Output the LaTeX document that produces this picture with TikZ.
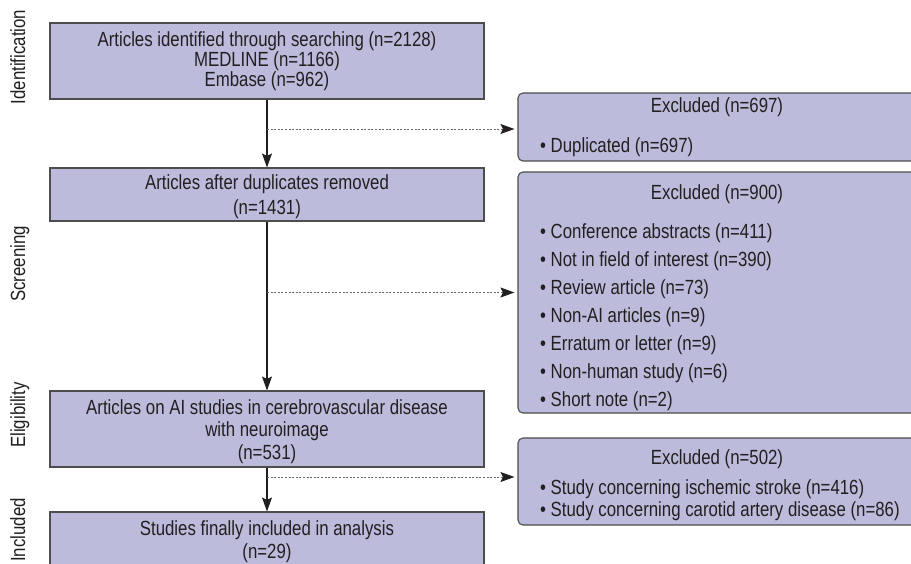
\documentclass[tikz,border=0pt]{standalone}
\usepackage{fontspec}
\setmainfont{Liberation Sans}[FakeStretch=0.82]
\usetikzlibrary{arrows.meta,positioning}
\definecolor{boxfill}{HTML}{BCBBDB}
\definecolor{boxline}{HTML}{4D4D4F}
\definecolor{ink}{HTML}{231F20}
\tikzset{
    %Define standard arrow tip
    >={Stealth[length=14pt,width=10pt,inset=2.5pt,color=ink]},
    %Define style for the main column boxes
    stage/.style={
           rectangle,
           draw=boxline,
           fill=boxfill,
           line width=1.1pt,
           minimum width=434pt,
           align=center,
           inner sep=0pt},
    %Define style for the exclusion boxes
    excl/.style={
           rectangle,
           rounded corners=5pt,
           draw=boxline,
           fill=boxfill,
           line width=1.1pt,
           minimum width=398pt},
    % list entries and phase labels
    entry/.style={anchor=west, inner sep=0pt},
    phase/.style={rotate=90, anchor=base, inner sep=0pt},
    % Define arrow styles
    pil/.style={
           ->,
           line width=1.1pt,
           draw=ink},
    dotpil/.style={
           ->,
           line width=1pt,
           draw=boxline!85,
           dash pattern=on 2pt off 1.6pt,
           shorten >=3pt}
}

\begin{document}
\begin{tikzpicture}[x=1pt, y=-1pt, font=\fontsize{20.5}{19}\selectfont, text=ink]
  \path[use as bounding box] (0,0) rectangle (911,563);
  \clip (0,0) rectangle (911,563);
  % phases
  \node[phase] (pid) at (25,57) {Identification};
  \node[phase] (psc) at (25,264) {Screening};
  \node[phase] (pel) at (25,415) {Eligibility};
  \node[phase] (pin) at (25,530) {Included};
  % main column
  \node[stage, minimum height=76pt] (found) at (267,61)
    {Articles identified through searching (n=2128)\\MEDLINE (n=1166)\\Embase (n=962)};
  \node[stage, minimum height=53pt] (dedup) at (267,194.5)
    {\rule{0pt}{20pt}Articles after duplicates removed\\[5pt](n=1431)};
  \node[stage, minimum height=76pt] (elig) at (267,429)
    {\rule{0pt}{21pt}Articles on AI studies in cerebrovascular disease\\[3pt]with neuroimage\\[3pt](n=531)};
  \node[stage, minimum height=54pt] (incl) at (267,539)
    {\rule{0pt}{20pt}Studies finally included in analysis\\[3pt](n=29)};
  % exclusions
  \node[excl, minimum height=68pt] (xdup) at (717,127) {};
  \node (xdupt) at (717,107) {Excluded (n=697)};
  \node[entry] (xdup0) at (540,147) {\textbullet\ Duplicated (n=697)};

  \node[excl, minimum height=241pt] (xscr) at (717,292.5) {};
  \node (xscrt) at (717,194) {Excluded (n=900)};
  \foreach \txt [count=\i from 0] in {Conference abstracts (n=411), Not in field of interest (n=390),
      Review article (n=73), Non-AI articles (n=9), Erratum or letter (n=9),
      Non-human study (n=6), Short note (n=2)}
    \node[entry] (xscr\i) at (540,233+28*\i) {\textbullet\ \txt};

  \node[excl, minimum height=87pt] (xel) at (717,481.5) {};
  \node (xelt) at (717,459) {Excluded (n=502)};
  \node[entry] (xel0) at (540,489) {\textbullet\ Study concerning ischemic stroke (n=416)};
  \node[entry] (xel1) at (540,511) {\textbullet\ Study concerning carotid artery disease (n=86)};
  % connectors
  \draw[pil] (found) -- (dedup);
  \draw[pil] (dedup) -- (elig);
  \draw[pil] (elig) -- (incl);
  \coordinate (fork1) at (found.south |- 0,129);
  \coordinate (fork3) at (elig.south |- 0,477);
  \draw[dotpil] (fork1) -- (fork1 -| xdup.west);
  \draw[dotpil] (dedup.south |- xscr.west) -- (xscr.west);
  \draw[dotpil] (fork3) -- (fork3 -| xel.west);
\end{tikzpicture}
\end{document}
